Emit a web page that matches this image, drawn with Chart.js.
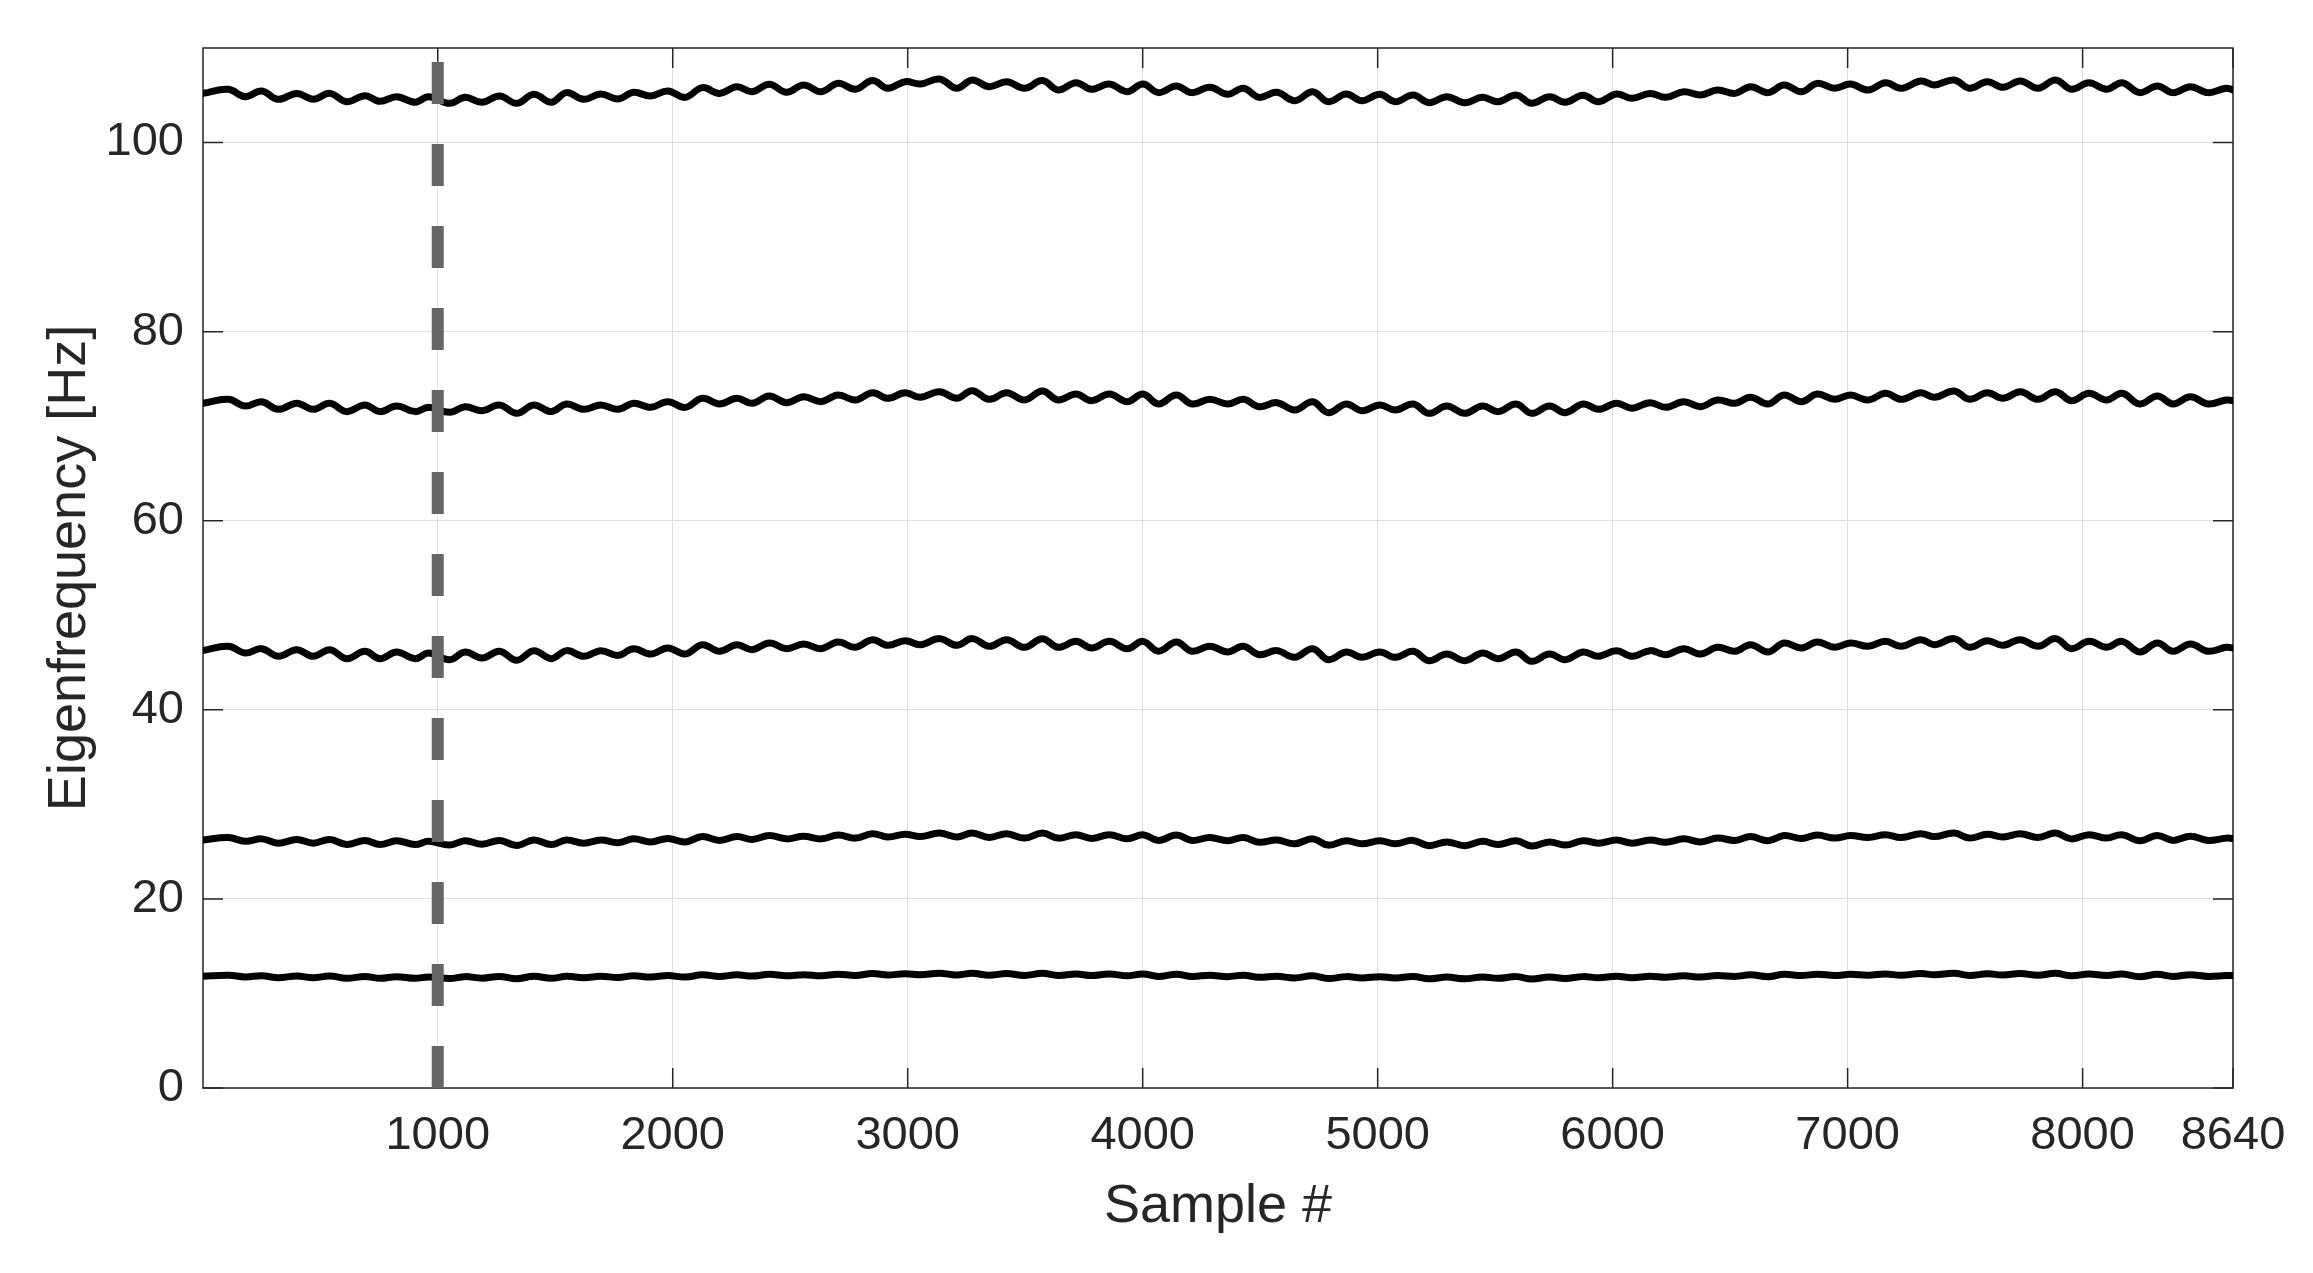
<!DOCTYPE html>
<html><head><meta charset="utf-8">
<script src="https://cdn.jsdelivr.net/npm/chart.js@4/dist/chart.umd.min.js"></script>
<style>html,body{margin:0;padding:0;background:#fff;}canvas{display:block;}</style>
</head><body>
<canvas id="c" width="2313" height="1273" style="width:2313px;height:1273px"></canvas>
<script>
// Sample positions (peaks / troughs of the oscillation)
const sampleIdx = [
  1, 109, 180, 251, 321, 400, 470, 541, 612, 690,
  754, 825, 904, 961, 1051, 1116, 1189, 1263, 1336, 1409,
  1483, 1548, 1621, 1694, 1768, 1833, 1906, 1979, 2053, 2126,
  2199, 2273, 2338, 2411, 2484, 2557, 2631, 2704, 2777, 2850,
  2915, 2989, 3054, 3135, 3209, 3274, 3347, 3421, 3497, 3573,
  3640, 3716, 3782, 3858, 3934, 4001, 4067, 4143, 4210, 4286,
  4362, 4429, 4495, 4571, 4647, 4723, 4790, 4866, 4933, 5009,
  5075, 5151, 5218, 5294, 5370, 5446, 5513, 5589, 5655, 5731,
  5798, 5874, 5940, 6016, 6083, 6159, 6226, 6302, 6374, 6446,
  6521, 6587, 6662, 6729, 6804, 6870, 6945, 7012, 7087, 7161,
  7228, 7311, 7369, 7453, 7519, 7594, 7661, 7735, 7810, 7885,
  7952, 8027, 8102, 8168, 8243, 8318, 8385, 8459, 8534, 8610,
  8640
];
const mode5 = [
  105.20, 105.63, 104.85, 105.45, 104.57, 105.20, 104.57, 105.20, 104.32, 104.96,
  104.36, 104.85, 104.26, 104.85, 104.15, 104.78, 104.26, 104.92, 104.15, 105.10,
  104.26, 105.28, 104.57, 105.13, 104.61, 105.31, 104.92, 105.45, 104.78, 105.81,
  105.20, 105.91, 105.38, 106.16, 105.31, 106.09, 105.38, 106.26, 105.63, 106.55,
  105.74, 106.44, 106.19, 106.72, 105.74, 106.62, 105.91, 106.44, 105.74, 106.55,
  105.56, 106.33, 105.63, 106.19, 105.38, 106.19, 105.28, 105.98, 105.28, 105.84,
  105.10, 105.74, 104.78, 105.31, 104.43, 105.38, 104.32, 105.13, 104.43, 105.10,
  104.32, 105.03, 104.22, 104.85, 104.22, 104.78, 104.32, 105.03, 104.15, 104.85,
  104.26, 104.99, 104.32, 105.13, 104.68, 105.20, 104.78, 105.38, 105.03, 105.56,
  105.20, 105.91, 105.28, 106.09, 105.38, 106.26, 105.74, 106.19, 105.56, 106.33,
  105.74, 106.51, 106.09, 106.62, 105.74, 106.44, 105.84, 106.51, 105.74, 106.62,
  105.63, 106.33, 105.63, 106.33, 105.28, 105.98, 105.28, 105.91, 105.28, 105.74,
  105.56
];
const mode4 = [
  72.42, 72.84, 72.13, 72.59, 71.78, 72.42, 71.78, 72.42, 71.54, 72.24,
  71.54, 72.13, 71.54, 71.99, 71.47, 72.06, 71.64, 72.24, 71.36, 72.24,
  71.54, 72.35, 71.78, 72.24, 71.78, 72.42, 71.99, 72.59, 71.99, 72.95,
  72.35, 72.95, 72.42, 73.19, 72.49, 73.12, 72.59, 73.30, 72.77, 73.54,
  72.95, 73.54, 73.05, 73.65, 72.95, 73.76, 72.84, 73.54, 72.77, 73.72,
  72.77, 73.40, 72.70, 73.40, 72.59, 73.40, 72.35, 73.30, 72.35, 72.84,
  72.35, 72.84, 72.06, 72.49, 71.71, 72.59, 71.43, 72.35, 71.64, 72.24,
  71.71, 72.35, 71.36, 72.13, 71.36, 72.13, 71.54, 72.35, 71.36, 72.13,
  71.43, 72.35, 71.78, 72.42, 71.89, 72.49, 71.99, 72.59, 72.06, 72.77,
  72.42, 73.05, 72.35, 73.30, 72.59, 73.40, 72.84, 73.30, 72.77, 73.48,
  72.84, 73.54, 73.05, 73.72, 72.84, 73.54, 72.95, 73.65, 72.84, 73.65,
  72.70, 73.48, 72.77, 73.48, 72.35, 73.19, 72.35, 73.12, 72.35, 72.77,
  72.70
];
const mode3 = [
  46.26, 46.72, 46.01, 46.47, 45.66, 46.36, 45.66, 46.36, 45.41, 46.19,
  45.41, 46.12, 45.41, 46.01, 45.30, 46.12, 45.48, 46.19, 45.23, 46.26,
  45.41, 46.26, 45.66, 46.26, 45.76, 46.47, 45.90, 46.54, 45.90, 46.89,
  46.19, 46.89, 46.36, 47.07, 46.47, 46.96, 46.47, 47.17, 46.61, 47.42,
  46.82, 47.31, 46.89, 47.53, 46.82, 47.53, 46.72, 47.42, 46.61, 47.53,
  46.61, 47.24, 46.54, 47.24, 46.47, 47.24, 46.19, 47.17, 46.19, 46.72,
  46.12, 46.72, 45.83, 46.26, 45.55, 46.47, 45.30, 46.12, 45.55, 46.12,
  45.55, 46.19, 45.20, 45.90, 45.20, 46.01, 45.41, 46.12, 45.13, 45.90,
  45.30, 46.12, 45.66, 46.26, 45.66, 46.26, 45.83, 46.47, 45.90, 46.61,
  46.19, 46.89, 46.12, 47.07, 46.54, 47.17, 46.61, 47.07, 46.72, 47.24,
  46.72, 47.42, 46.89, 47.53, 46.61, 47.31, 46.82, 47.42, 46.72, 47.53,
  46.47, 47.24, 46.61, 47.24, 46.12, 47.07, 46.19, 46.96, 46.19, 46.61,
  46.54
];
const mode2 = [
  26.23, 26.50, 26.09, 26.35, 25.89, 26.29, 25.89, 26.29, 25.75, 26.19,
  25.75, 26.15, 25.75, 26.09, 25.69, 26.15, 25.79, 26.19, 25.65, 26.23,
  25.75, 26.23, 25.89, 26.23, 25.95, 26.35, 26.03, 26.39, 26.03, 26.59,
  26.19, 26.59, 26.29, 26.70, 26.35, 26.63, 26.35, 26.75, 26.43, 26.90,
  26.55, 26.83, 26.59, 26.96, 26.55, 26.96, 26.50, 26.90, 26.43, 26.96,
  26.43, 26.79, 26.39, 26.79, 26.35, 26.79, 26.19, 26.75, 26.19, 26.50,
  26.15, 26.50, 25.99, 26.23, 25.83, 26.35, 25.69, 26.15, 25.83, 26.15,
  25.83, 26.19, 25.63, 26.03, 25.63, 26.09, 25.75, 26.15, 25.59, 26.03,
  25.69, 26.15, 25.89, 26.23, 25.89, 26.23, 25.99, 26.35, 26.03, 26.43,
  26.19, 26.59, 26.15, 26.70, 26.39, 26.75, 26.43, 26.70, 26.50, 26.79,
  26.50, 26.90, 26.59, 26.96, 26.43, 26.83, 26.55, 26.90, 26.50, 26.96,
  26.35, 26.79, 26.43, 26.79, 26.15, 26.70, 26.19, 26.63, 26.19, 26.43,
  26.39
];
const mode1 = [
  11.82, 11.93, 11.75, 11.87, 11.67, 11.84, 11.67, 11.84, 11.60, 11.80,
  11.60, 11.78, 11.60, 11.75, 11.58, 11.78, 11.62, 11.80, 11.56, 11.82,
  11.60, 11.82, 11.67, 11.82, 11.69, 11.87, 11.73, 11.89, 11.73, 11.97,
  11.80, 11.97, 11.84, 12.02, 11.87, 11.99, 11.87, 12.04, 11.90, 12.11,
  11.96, 12.08, 11.97, 12.13, 11.96, 12.13, 11.93, 12.11, 11.90, 12.13,
  11.90, 12.06, 11.89, 12.06, 11.87, 12.06, 11.80, 12.04, 11.80, 11.93,
  11.78, 11.93, 11.71, 11.82, 11.64, 11.87, 11.58, 11.78, 11.64, 11.78,
  11.64, 11.80, 11.55, 11.73, 11.55, 11.75, 11.60, 11.78, 11.53, 11.73,
  11.58, 11.78, 11.67, 11.82, 11.67, 11.82, 11.71, 11.87, 11.73, 11.90,
  11.80, 11.97, 11.78, 12.02, 11.89, 12.04, 11.90, 12.02, 11.93, 12.06,
  11.93, 12.11, 11.97, 12.13, 11.90, 12.08, 11.96, 12.11, 11.93, 12.13,
  11.87, 12.06, 11.90, 12.06, 11.78, 12.02, 11.80, 11.99, 11.80, 11.90,
  11.89
];
const xTicks = [1000, 2000, 3000, 4000, 5000, 6000, 7000, 8000, 8640];
const yTicks = [0, 20, 40, 60, 80, 100];
const markerSample = 1000;
const xRange = [1, 8640];
const yRange = [0, 110];

const FONT = '"Liberation Sans", Arial, Helvetica, sans-serif';
const INK = '#262626';

const axesBox = {
  id: 'axesBox',
  beforeDatasetsDraw(chart) {
    const {ctx, chartArea: a, scales: {x, y}} = chart;
    ctx.save();
    ctx.strokeStyle = INK;
    ctx.lineWidth = 1.5;
    ctx.beginPath();
    xTicks.forEach(v => {
      const px = x.getPixelForValue(v);
      ctx.moveTo(px, a.bottom); ctx.lineTo(px, a.bottom - 20);
      ctx.moveTo(px, a.top); ctx.lineTo(px, a.top + 20);
    });
    yTicks.forEach(v => {
      const py = y.getPixelForValue(v);
      ctx.moveTo(a.left, py); ctx.lineTo(a.left + 20, py);
      ctx.moveTo(a.right, py); ctx.lineTo(a.right - 20, py);
    });
    ctx.stroke();
    ctx.strokeRect(a.left, a.top, a.right - a.left, a.bottom - a.top);
    ctx.restore();
  }
};

function series(arr) {
  return {
    data: sampleIdx.map((s, i) => ({x: s, y: arr[i]})),
    borderColor: '#000000',
    borderWidth: 7,
    pointRadius: 0,
    fill: false,
    tension: 0.4,
    borderJoinStyle: 'round',
    borderCapStyle: 'round'
  };
}

new Chart(document.getElementById('c'), {
  type: 'line',
  data: {
    datasets: [
      {
        data: [{x: markerSample, y: yRange[0]}, {x: markerSample, y: yRange[1]}],
        borderColor: '#666666',
        borderWidth: 12,
        borderDash: [42, 40],
        borderCapStyle: 'butt',
        pointRadius: 0,
        tension: 0,
        fill: false
      },
      series(mode1), series(mode2), series(mode3), series(mode4), series(mode5)
    ]
  },
  options: {
    responsive: false,
    animation: false,
    devicePixelRatio: 1,
    layout: {padding: {left: 0, right: 80, top: 48, bottom: 0}},
    plugins: {legend: {display: false}, tooltip: {enabled: false}},
    scales: {
      x: {
        type: 'linear', min: xRange[0], max: xRange[1],
        afterBuildTicks: s => { s.ticks = xTicks.map(v => ({value: v})); },
        afterFit: s => { s.height = 185; },
        ticks: {font: {family: FONT, size: 47}, color: INK, padding: 20, maxRotation: 0, autoSkip: false,
                callback: v => String(v)},
        grid: {color: '#dfdfdf', lineWidth: 1, drawTicks: false},
        border: {display: false},
        title: {display: true, text: 'Sample #', color: INK, font: {family: FONT, size: 54},
                padding: {top: 0, bottom: 33}}
      },
      y: {
        type: 'linear', min: yRange[0], max: yRange[1],
        afterBuildTicks: s => { s.ticks = yTicks.map(v => ({value: v})); },
        afterFit: s => { s.width = 203; },
        ticks: {font: {family: FONT, size: 47}, color: INK, padding: 19, autoSkip: false,
                callback: v => String(v)},
        grid: {color: '#dfdfdf', lineWidth: 1, drawTicks: false},
        border: {display: false},
        title: {display: true, text: 'Eigenfrequency [Hz]', color: INK, font: {family: FONT, size: 54},
                padding: {top: 38, bottom: 0}}
      }
    }
  },
  plugins: [axesBox]
});
</script>
</body></html>
